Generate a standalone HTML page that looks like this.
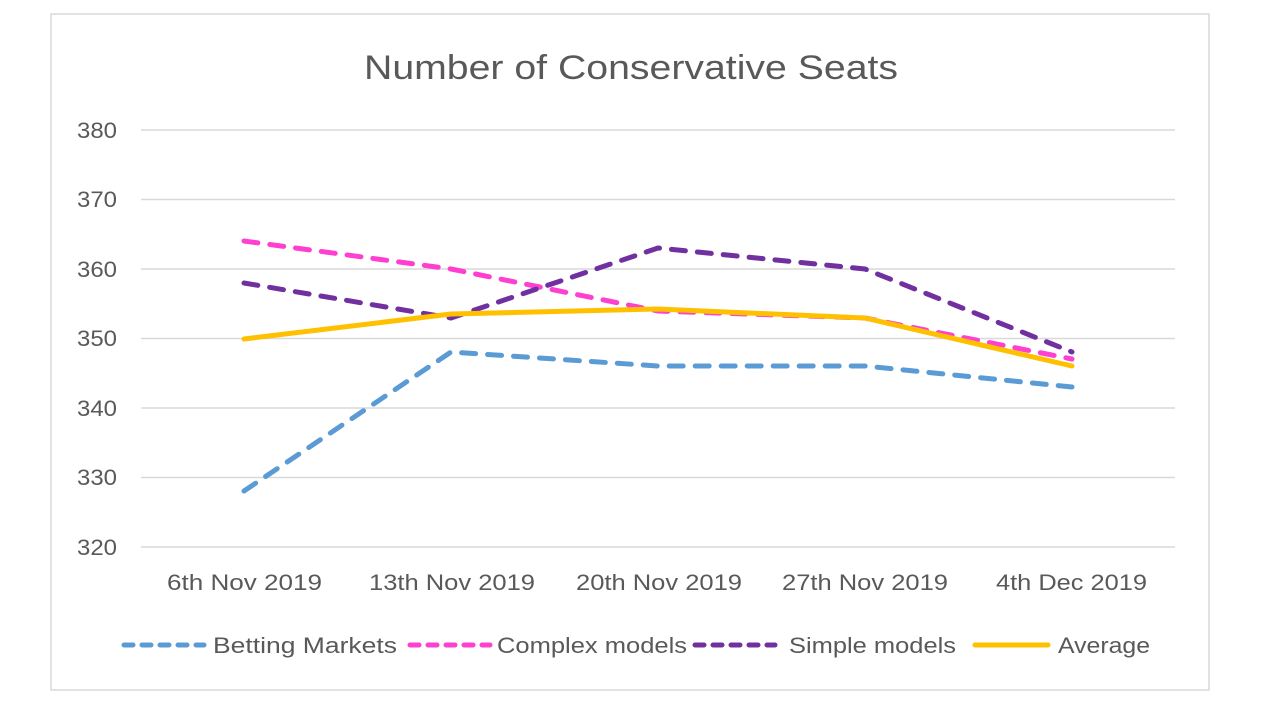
<!DOCTYPE html>
<html><head><meta charset="utf-8"><style>
html,body{margin:0;padding:0;background:#fff;}
svg{display:block;}
text{font-family:"Liberation Sans",sans-serif;fill:#595959;}
</style></head><body>
<svg width="1280" height="720" viewBox="0 0 1280 720">
<rect x="51" y="14" width="1158" height="676" fill="#fff" stroke="#d9d9d9" stroke-width="1.5"/>
<text x="364" y="79" font-size="34" textLength="534" lengthAdjust="spacingAndGlyphs">Number of Conservative Seats</text>
<g stroke="#d9d9d9" stroke-width="1.5">
<line x1="141" x2="1175" y1="130" y2="130"/>
<line x1="141" x2="1175" y1="199.5" y2="199.5"/>
<line x1="141" x2="1175" y1="269" y2="269"/>
<line x1="141" x2="1175" y1="338.5" y2="338.5"/>
<line x1="141" x2="1175" y1="408" y2="408"/>
<line x1="141" x2="1175" y1="477.5" y2="477.5"/>
<line x1="141" x2="1175" y1="547" y2="547"/>
</g>
<g font-size="22">
<text x="77" y="138" textLength="40" lengthAdjust="spacingAndGlyphs">380</text>
<text x="77" y="207" textLength="40" lengthAdjust="spacingAndGlyphs">370</text>
<text x="77" y="277" textLength="40" lengthAdjust="spacingAndGlyphs">360</text>
<text x="77" y="346" textLength="40" lengthAdjust="spacingAndGlyphs">350</text>
<text x="77" y="416" textLength="40" lengthAdjust="spacingAndGlyphs">340</text>
<text x="77" y="485" textLength="40" lengthAdjust="spacingAndGlyphs">330</text>
<text x="77" y="555" textLength="40" lengthAdjust="spacingAndGlyphs">320</text>
</g>
<g font-size="22">
<text x="167" y="590" textLength="155" lengthAdjust="spacingAndGlyphs">6th Nov 2019</text>
<text x="369" y="590" textLength="166" lengthAdjust="spacingAndGlyphs">13th Nov 2019</text>
<text x="576" y="590" textLength="166" lengthAdjust="spacingAndGlyphs">20th Nov 2019</text>
<text x="782" y="590" textLength="166" lengthAdjust="spacingAndGlyphs">27th Nov 2019</text>
<text x="996" y="590" textLength="151" lengthAdjust="spacingAndGlyphs">4th Dec 2019</text>
</g>
<g fill="none" stroke-width="5" stroke-linecap="round" stroke-linejoin="round">
<polyline stroke="#5B9BD5" stroke-dasharray="14 12" points="244,491 451,352 658,366 865,366 1072,387"/>
<polyline stroke="#FF3FCF" stroke-dasharray="14 12" points="244,241 451,269 658,311 865,318 1072,359"/>
<polyline stroke="#7030A0" stroke-dasharray="14 12" points="244,283 451,318 658,248 865,269 1072,352"/>
<polyline stroke="#FFC000" points="244,339 451,314 658,309 865,318 1072,366"/>
</g>
<g stroke-width="5" stroke-linecap="round" stroke-dasharray="9 9">
<line x1="124" x2="204" y1="645" y2="645" stroke="#5B9BD5"/>
<line x1="410" x2="490" y1="645" y2="645" stroke="#FF3FCF"/>
<line x1="695" x2="775" y1="645" y2="645" stroke="#7030A0"/>
</g>
<line x1="975" x2="1048" y1="645" y2="645" stroke="#FFC000" stroke-width="5" stroke-linecap="round"/>
<g font-size="22">
<text x="213" y="653" textLength="184" lengthAdjust="spacingAndGlyphs">Betting Markets</text>
<text x="497" y="653" textLength="190" lengthAdjust="spacingAndGlyphs">Complex models</text>
<text x="789" y="653" textLength="167" lengthAdjust="spacingAndGlyphs">Simple models</text>
<text x="1058" y="653" textLength="92" lengthAdjust="spacingAndGlyphs">Average</text>
</g>
</svg>
</body></html>
